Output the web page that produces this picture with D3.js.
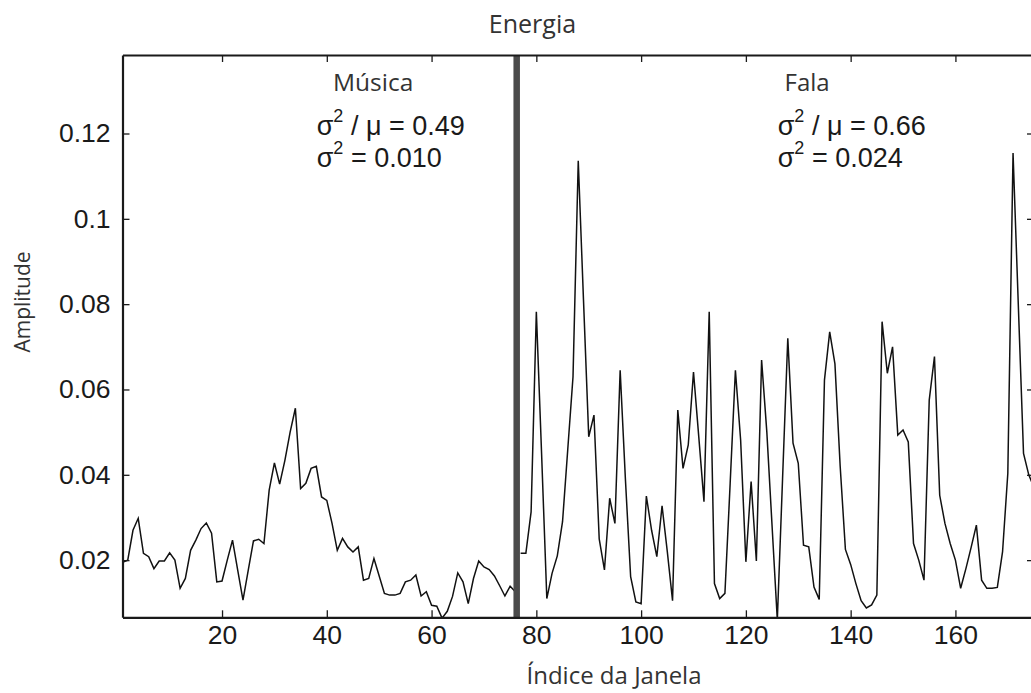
<!DOCTYPE html>
<html>
<head>
<meta charset="utf-8">
<script src="https://cdn.jsdelivr.net/npm/d3@7/dist/d3.min.js"></script>
<style>
  body { margin: 0; background: #fff; }
  svg { display: block; }
</style>
</head>
<body>
<svg id="chart" width="1031" height="693"></svg>
<script>
// Short-time energy per analysis window: music segment, then speech segment
const musicaStart = 1;
const musica = [
  0.0195, 0.0200, 0.0270, 0.0298, 0.0216, 0.0208, 0.0180, 0.0198, 0.0198, 0.0217,
  0.0200, 0.0134, 0.0157, 0.0223, 0.0247, 0.0274, 0.0287, 0.0263, 0.0149, 0.0151,
  0.0200, 0.0247, 0.0176, 0.0106, 0.0176, 0.0245, 0.0249, 0.0239, 0.0364, 0.0428,
  0.0378, 0.0434, 0.0500, 0.0556, 0.0368, 0.0380, 0.0415, 0.0420, 0.0348, 0.0340,
  0.0286, 0.0223, 0.0251, 0.0231, 0.0219, 0.0231, 0.0153, 0.0157, 0.0204, 0.0163,
  0.0122, 0.0118, 0.0118, 0.0122, 0.0149, 0.0153, 0.0165, 0.0116, 0.0126, 0.0094,
  0.0092, 0.0064, 0.0080, 0.0115, 0.0170, 0.0149, 0.0098, 0.0157, 0.0198, 0.0184,
  0.0178, 0.0163, 0.0140, 0.0116, 0.0139, 0.0126
];

const falaStart = 77;
const fala = [
  0.0216, 0.0216, 0.0313, 0.0782, 0.0450, 0.0110, 0.0169, 0.0210, 0.0290, 0.0460,
  0.0630, 0.1136, 0.0810, 0.0489, 0.0540, 0.0250, 0.0177, 0.0345, 0.0286, 0.0645,
  0.0390, 0.0161, 0.0102, 0.0098, 0.0350, 0.0270, 0.0208, 0.0327, 0.0220, 0.0105,
  0.0552, 0.0415, 0.0470, 0.0641, 0.0490, 0.0337, 0.0782, 0.0145, 0.0110, 0.0122,
  0.0380, 0.0645, 0.0481, 0.0196, 0.0384, 0.0198, 0.0669, 0.0500, 0.0280, 0.0060,
  0.0390, 0.0720, 0.0474, 0.0427, 0.0235, 0.0231, 0.0137, 0.0108, 0.0622, 0.0735,
  0.0660, 0.0420, 0.0225, 0.0190, 0.0145, 0.0105, 0.0088, 0.0095, 0.0118, 0.0759,
  0.0638, 0.0700, 0.0493, 0.0505, 0.0477, 0.0239, 0.0200, 0.0153, 0.0575, 0.0677,
  0.0352, 0.0286, 0.0239, 0.0200, 0.0134, 0.0180, 0.0230, 0.0282, 0.0153, 0.0134,
  0.0134, 0.0136, 0.0220, 0.0403, 0.1154, 0.0800, 0.0450, 0.0400, 0.0370
];

// Boundary between the two segments (window index)
const separatorIndex = 76.25;

const xDomain = [1, 175];
const yDomain = [0.0066, 0.1384];
const xTicks = [20, 40, 60, 80, 100, 120, 140, 160];
const yTicks = [0.02, 0.04, 0.06, 0.08, 0.1, 0.12];
const yTickLabels = ["0.02", "0.04", "0.06", "0.08", "0.1", "0.12"];

const segmentNames = ["Música", "Fala"];
const segmentRatio = ["0.49", "0.66"];
const segmentVariance = ["0.010", "0.024"];
const segmentLabelAt = [{ name: 333, stats: 316.7 }, { name: 784.5, stats: 777.7 }];

const titleText = "Energia";
const xLabelText = "Índice da Janela";
const yLabelText = "Amplitude";

// ---- layout ----
const plot = { left: 122.5, right: 1034, top: 55, bottom: 617.3 };
const svg = d3.select("#chart");

const x = d3.scaleLinear().domain(xDomain).range([plot.left, plot.right]);
const y = d3.scaleLinear().domain(yDomain).range([plot.bottom, plot.top]);

const labelFont = "'Open Sans', 'Noto Sans', sans-serif";
const numFont = "'Liberation Sans', Arial, sans-serif";

svg.append("rect").attr("width", 1031).attr("height", 693).attr("fill", "#fff");

svg.append("defs").append("clipPath").attr("id", "plotClip")
  .append("rect")
  .attr("x", plot.left).attr("y", plot.top)
  .attr("width", plot.right - plot.left).attr("height", plot.bottom - plot.top);

// ---- series ----
const toPoints = (arr, start) => arr.map((v, i) => ({ k: start + i, v }));
const line = d3.line().x(d => x(d.k)).y(d => y(d.v));

const series = svg.append("g").attr("clip-path", "url(#plotClip)");
[toPoints(musica, musicaStart), toPoints(fala, falaStart)].forEach(pts => {
  series.append("path")
    .datum(pts)
    .attr("d", line)
    .attr("fill", "none")
    .attr("stroke", "#111")
    .attr("stroke-width", 1.5)
    .attr("stroke-linejoin", "miter");
});

// segment separator
svg.append("line")
  .attr("x1", x(separatorIndex)).attr("x2", x(separatorIndex))
  .attr("y1", y(yDomain[1])).attr("y2", y(yDomain[0]))
  .attr("stroke", "#4b4b4b")
  .attr("stroke-width", 6.5);

// ---- axes (ticks drawn inward on all four sides) ----
function styleAxis(g) {
  g.select(".domain").attr("stroke", "#1a1a1a").attr("stroke-width", 2.2);
  g.selectAll(".tick line").attr("stroke", "#1a1a1a").attr("stroke-width", 1.3);
  g.selectAll(".tick text")
    .attr("fill", "#1a1a1a")
    .style("font-family", numFont)
    .style("font-size", "26.5px");
}

svg.append("g")
  .attr("transform", `translate(0,${plot.bottom})`)
  .call(d3.axisBottom(x).tickValues(xTicks).tickSizeInner(-7).tickSizeOuter(0).tickPadding(8))
  .call(styleAxis);

svg.append("g")
  .attr("transform", `translate(0,${plot.top})`)
  .call(d3.axisTop(x).tickValues(xTicks).tickSizeInner(-7).tickSizeOuter(0).tickFormat(""))
  .call(styleAxis);

svg.append("g")
  .attr("transform", `translate(${plot.left},0)`)
  .call(d3.axisLeft(y).tickValues(yTicks).tickSizeInner(-7).tickSizeOuter(0).tickPadding(12)
    .tickFormat((d, i) => yTickLabels[i]))
  .call(styleAxis);

svg.append("g")
  .attr("transform", `translate(${plot.right},0)`)
  .call(d3.axisRight(y).tickValues(yTicks).tickSizeInner(-7).tickSizeOuter(0).tickFormat(""))
  .call(styleAxis);

// ---- titles ----
svg.append("text")
  .attr("x", 532.5).attr("y", 33.3)
  .attr("text-anchor", "middle")
  .style("font-family", labelFont).style("font-size", "25px")
  .attr("fill", "#333")
  .text(titleText);

svg.append("text")
  .attr("x", 614).attr("y", 684)
  .attr("text-anchor", "middle")
  .style("font-family", labelFont).style("font-size", "24px")
  .attr("fill", "#333")
  .text(xLabelText);

svg.append("text")
  .attr("transform", "translate(30,302) rotate(-90)")
  .attr("text-anchor", "middle")
  .style("font-family", labelFont).style("font-size", "21px")
  .attr("fill", "#333")
  .text(yLabelText);

// ---- segment annotations ----
segmentNames.forEach((name, i) => {
  const pos = segmentLabelAt[i];
  svg.append("text")
    .attr("x", pos.name).attr("y", 90.5)
    .style("font-family", labelFont).style("font-size", i === 0 ? "24.5px" : "24px")
    .attr("fill", "#333")
    .text(name);

  const r = svg.append("text")
    .attr("x", pos.stats).attr("y", 134.5)
    .style("font-family", numFont).style("font-size", "27px")
    .attr("fill", "#1a1a1a");
  r.append("tspan").text("σ");
  r.append("tspan").attr("dy", -13).style("font-size", "18px").text("2");
  r.append("tspan").attr("dy", 13).text(" / μ = " + segmentRatio[i]);

  const v = svg.append("text")
    .attr("x", pos.stats).attr("y", 166.7)
    .style("font-family", numFont).style("font-size", "27px")
    .attr("fill", "#1a1a1a");
  v.append("tspan").text("σ");
  v.append("tspan").attr("dy", -13).style("font-size", "18px").text("2");
  v.append("tspan").attr("dy", 13).text(" = " + segmentVariance[i]);
});
</script>
</body>
</html>
